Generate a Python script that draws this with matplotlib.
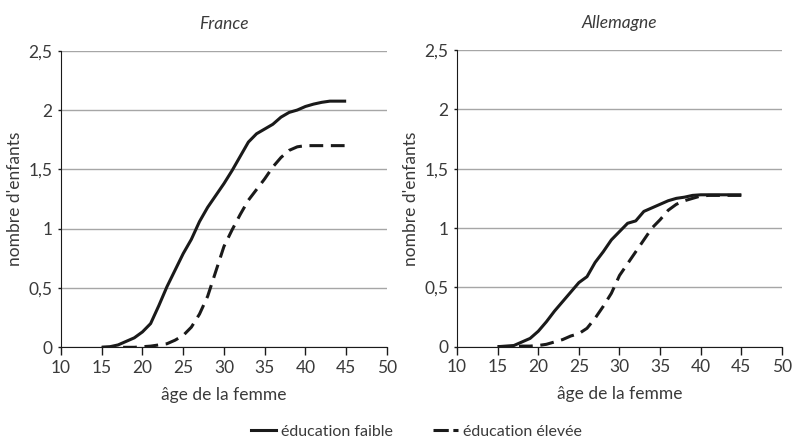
import matplotlib
matplotlib.use("Agg")
import matplotlib.pyplot as plt
from matplotlib.lines import Line2D

plt.rcParams['font.family'] = ['Lato', 'DejaVu Sans']

ages = list(range(15, 46))

france_faible = [0, 0.005, 0.02, 0.05, 0.08, 0.13, 0.2, 0.35, 0.51, 0.65, 0.79, 0.91, 1.06, 1.18, 1.28,
                 1.38, 1.49, 1.61, 1.73, 1.8, 1.84, 1.88, 1.94, 1.98, 2.0, 2.03, 2.05, 2.065, 2.075, 2.075, 2.075]
france_elevee = [0, 0, 0, 0, 0, 0.005, 0.01, 0.02, 0.03, 0.06, 0.1, 0.17, 0.28, 0.43, 0.64,
                 0.85, 0.99, 1.12, 1.24, 1.33, 1.42, 1.52, 1.6, 1.66, 1.69, 1.7, 1.7, 1.7, 1.7, 1.7, 1.7]
allemagne_faible = [0, 0.005, 0.01, 0.04, 0.07, 0.13, 0.21, 0.3, 0.38, 0.46, 0.54, 0.59, 0.71, 0.8, 0.9,
                    0.97, 1.04, 1.06, 1.14, 1.17, 1.2, 1.23, 1.25, 1.26, 1.275, 1.28, 1.28, 1.28, 1.28, 1.28, 1.28]
allemagne_elevee = [0, 0, 0, 0.005, 0.005, 0.01, 0.02, 0.04, 0.06, 0.09, 0.11, 0.155, 0.24, 0.34, 0.45,
                    0.6, 0.7, 0.8, 0.9, 1.0, 1.07, 1.15, 1.2, 1.23, 1.25, 1.27, 1.275, 1.275, 1.275, 1.275, 1.275]

panels = [("France", france_faible, france_elevee), ("Allemagne", allemagne_faible, allemagne_elevee)]
xticks = [10, 15, 20, 25, 30, 35, 40, 45, 50]
yticks = [0, 0.5, 1, 1.5, 2, 2.5]
ytick_labels = ["0", "0,5", "1", "1,5", "2", "2,5"]
label_faible = "éducation faible"
label_elevee = "éducation élevée"

txt = '#3a3a3a'
fig = plt.figure(figsize=(7.93, 4.43), dpi=100)
positions = [[0.0769, 0.216, 0.411, 0.6695], [0.5763, 0.2174, 0.4098, 0.6697]]
lw = 2.2
dash = (4.5, 2.5)

for pos, (title, faible, elevee) in zip(positions, panels):
    ax = fig.add_axes(pos)
    ax.plot(ages, faible, color='#1a1a1a', lw=lw, solid_capstyle='butt', solid_joinstyle='round')
    ax.plot(ages, elevee, color='#1a1a1a', lw=lw, dashes=dash)
    ax.set_xlim(10, 50)
    ax.set_ylim(0, 2.5)
    ax.set_xticks(xticks)
    ax.set_xticklabels([str(t) for t in xticks], fontsize=12.5, color=txt)
    ax.set_yticks(yticks)
    ax.set_yticklabels(ytick_labels, fontsize=12.5, color=txt)
    ax.yaxis.grid(True, color='#a6a6a6', lw=1)
    ax.set_axisbelow(True)
    for s in ['top', 'right']:
        ax.spines[s].set_visible(False)
    ax.spines['left'].set_color('#1a1a1a')
    ax.spines['bottom'].set_color('#1a1a1a')
    ax.tick_params(axis='x', length=6, width=1, color='#1a1a1a', pad=3)
    ax.tick_params(axis='y', length=2, width=1, color='#1a1a1a', pad=4)
    ax.set_xlabel("âge de la femme", fontsize=12.5, color=txt, labelpad=8)
    ax.set_ylabel("nombre d'enfants", fontsize=12.5, color=txt, labelpad=4)
    ax.set_title(title, fontsize=12.5, style='italic', color=txt, pad=16)

handles = [Line2D([], [], color='#1a1a1a', lw=lw),
           Line2D([], [], color='#1a1a1a', lw=lw, dashes=(5, 1.5, 2, 1.5))]
fig.legend(handles, [label_faible, label_elevee], loc='center', bbox_to_anchor=(0.525, 0.025),
           ncol=2, frameon=False, fontsize=11.5, handlelength=1.6, handletextpad=0.3,
           columnspacing=2.5, labelcolor=txt)

fig.savefig("out.png", dpi=100)
